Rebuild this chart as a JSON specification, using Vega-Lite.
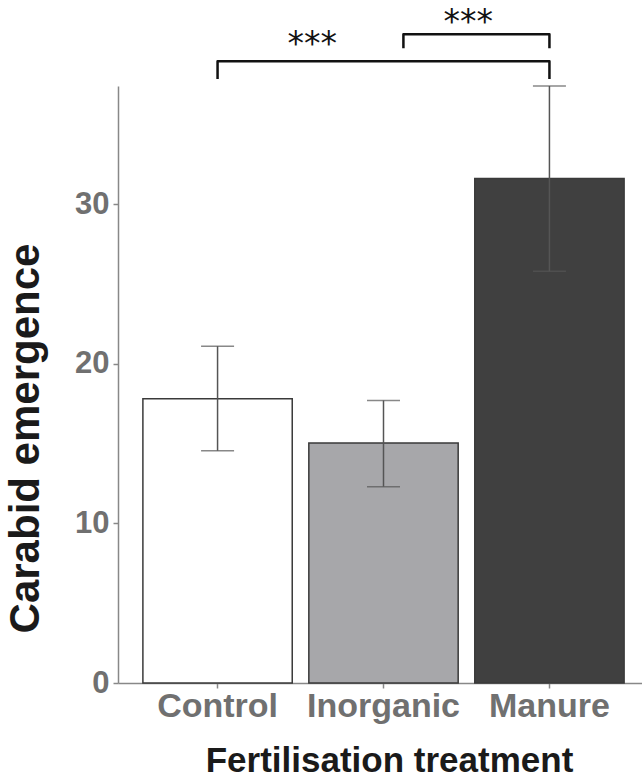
{
  "$schema": "https://vega.github.io/schema/vega-lite/v6.json",
  "width": 524,
  "height": 597,
  "autosize": "none",
  "padding": {"left": 118, "top": 86, "right": 0, "bottom": 96},
  "background": "white",
  "config": {"view": {"stroke": null}, "font": "Liberation Sans"},
  "layer": [
    {
      "data": {
        "values": [
          {"treatment": "Control", "mean": 17.8, "lo": 14.55, "hi": 21.1},
          {"treatment": "Inorganic", "mean": 15.03, "lo": 12.3, "hi": 17.7},
          {"treatment": "Manure", "mean": 31.6, "lo": 25.8, "hi": 37.4}
        ]
      },
      "encoding": {
        "x": {
          "field": "treatment",
          "type": "nominal",
          "sort": null,
          "scale": {"range": [0, 531], "paddingInner": 0.1, "paddingOuter": 0.15},
          "axis": {
            "title": "Fertilisation treatment",
            "labelAngle": 0,
            "labelFont": "Liberation Sans",
            "labelFontWeight": "bold",
            "labelFontSize": 34,
            "labelColor": "#707070",
            "labelPadding": 1,
            "tickSize": 5,
            "tickColor": "#888888",
            "tickWidth": 1.5,
            "domainColor": "#888888",
            "domainWidth": 1.5,
            "titleFont": "Liberation Sans",
            "titleFontWeight": "bold",
            "titleFontSize": 35,
            "titleColor": "#1a1a1a",
            "titleX": 271,
            "titleY": 88,
            "titleBaseline": "alphabetic",
            "titleAnchor": "middle",
            "titleAlign": "center"
          }
        },
        "y": {
          "field": "mean",
          "type": "quantitative",
          "scale": {"domain": [0, 37.4], "nice": false, "zero": true},
          "axis": {
            "title": "Carabid emergence",
            "values": [0, 10, 20, 30],
            "grid": false,
            "labelFont": "Liberation Sans",
            "labelFontWeight": "bold",
            "labelFontSize": 31,
            "labelColor": "#707070",
            "labelPadding": 4,
            "tickSize": 5,
            "tickColor": "#888888",
            "tickWidth": 1.5,
            "domainColor": "#888888",
            "domainWidth": 1.5,
            "titleFont": "Liberation Sans",
            "titleFontWeight": "bold",
            "titleFontSize": 42,
            "titleColor": "#1a1a1a",
            "titleX": -80,
            "titleY": 352,
            "titleBaseline": "alphabetic",
            "titleAngle": 270,
            "titleAlign": "center"
          }
        }
      },
      "layer": [
        {
          "mark": {"type": "bar", "stroke": "#3a3a3a", "strokeWidth": 1.5},
          "encoding": {
            "fill": {
              "field": "treatment",
              "type": "nominal",
              "scale": {"domain": ["Control", "Inorganic", "Manure"], "range": ["#ffffff", "#a7a7aa", "#404040"]},
              "legend": null
            }
          }
        },
        {
          "mark": {"type": "rule", "color": "#555555", "strokeWidth": 1.5},
          "encoding": {
            "y": {"field": "lo", "type": "quantitative", "title": "Carabid emergence"},
            "y2": {"field": "hi"}
          }
        },
        {
          "mark": {"type": "tick", "color": "#555555", "thickness": 1.5, "size": 33},
          "encoding": {"y": {"field": "lo", "type": "quantitative", "title": "Carabid emergence"}}
        },
        {
          "mark": {"type": "tick", "color": "#555555", "thickness": 1.5, "size": 33},
          "encoding": {"y": {"field": "hi", "type": "quantitative", "title": "Carabid emergence"}}
        }
      ]
    },
    {
      "data": {
        "values": [
          {"bracket": "a", "ord": 1, "pos": 1, "val": 37.84},
          {"bracket": "a", "ord": 2, "pos": 1, "val": 38.95},
          {"bracket": "a", "ord": 3, "pos": 3, "val": 38.95},
          {"bracket": "a", "ord": 4, "pos": 3, "val": 37.84},
          {"bracket": "b", "ord": 1, "pos": 2.12, "val": 39.76},
          {"bracket": "b", "ord": 2, "pos": 2.12, "val": 40.64},
          {"bracket": "b", "ord": 3, "pos": 3, "val": 40.64},
          {"bracket": "b", "ord": 4, "pos": 3, "val": 39.76}
        ]
      },
      "mark": {"type": "line", "color": "#111111", "strokeWidth": 2.5, "strokeJoin": "round", "clip": false},
      "encoding": {
        "x": {"field": "pos", "type": "quantitative", "scale": {"domain": [0.4, 3.6], "range": [0, 531], "nice": false, "zero": false}, "axis": null},
        "y": {"field": "val", "type": "quantitative", "title": "Carabid emergence"},
        "detail": {"field": "bracket"},
        "order": {"field": "ord"}
      }
    },
    {
      "data": {
        "values": [
          {"label": "***", "pos": 1.57, "val": 39.34},
          {"label": "***", "pos": 2.51, "val": 40.73}
        ]
      },
      "mark": {"type": "text", "font": "DejaVu Sans", "fontSize": 33, "color": "#111111", "baseline": "alphabetic", "align": "center", "clip": false},
      "encoding": {
        "x": {"field": "pos", "type": "quantitative", "scale": {"domain": [0.4, 3.6], "range": [0, 531], "nice": false, "zero": false}, "axis": null},
        "y": {"field": "val", "type": "quantitative", "title": "Carabid emergence"},
        "text": {"field": "label"}
      }
    }
  ],
  "resolve": {"scale": {"x": "independent"}}
}
